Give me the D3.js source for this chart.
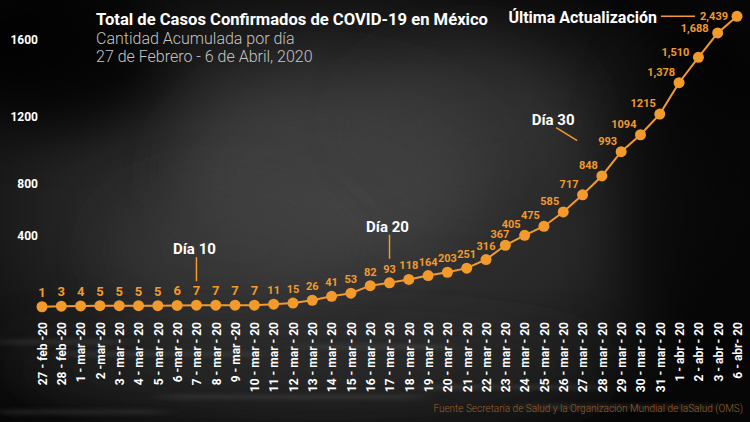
<!DOCTYPE html>
<html>
<head>
<meta charset="utf-8">
<script src="https://cdn.jsdelivr.net/npm/d3@7"></script>
<style>
    body { margin: 0; background: #111; }
    svg { display: block; font-family: 'Roboto', 'Noto Sans', sans-serif; }
</style>
</head>
<body>
<div id="chart"></div>
<script>

// data
var fechas = ["27 - feb -20", "28 - feb -20", "1 - mar -20", "2 -mar -20", "3 - mar - 20", "4 - mar - 20",
    "5 - mar - 20", "6 -mar - 20", "7 - mar - 20", "8 - mar - 20", "9 - mar -20", "10 - mar - 20",
    "11 - mar - 20", "12 - mar - 20", "13 - mar - 20", "14 - mar - 20", "15 - mar - 20", "16 - mar - 20",
    "17 - mar - 20", "18 - mar - 20", "19 - mar - 20", "20 - mar - 20", "21 - mar - 20", "22 - mar - 20",
    "23 - mar - 20", "24 - mar - 20", "25 - mar - 20", "26 - mar - 20", "27 - mar - 20", "28 - mar - 20",
    "29 - mar - 20", "30 - mar - 20", "31 - mar - 20", "1 - abr - 20", "2 - abr - 20", "3 - abr - 20",
    "6 - abr- 20"];
var casos = [1, 3, 4, 5, 5, 5, 5, 6, 7, 7, 7, 7, 11, 15, 26, 41, 53, 82, 93, 118, 164, 203, 251, 316,
    367, 405, 475, 585, 717, 848, 993, 1094, 1215, 1378, 1510, 1688, 2439];
var etiquetas = ["1", "3", "4", "5", "5", "5", "5", "6", "7", "7", "7", "7", "11", "15", "26", "41", "53",
    "82", "93", "118", "164", "203", "251", "316", "367", "405", "475", "585", "717", "848", "993",
    "1094", "1215", "1,378", "1,510", "1,688", "2,439"];
var yTicks = [400, 800, 1200, 1600];
var hitos = [{ fecha: "7 - mar - 20", texto: "Día 10" }, { fecha: "17 - mar - 20", texto: "Día 20" }];
var hito30 = { fecha: "29 - mar - 20", texto: "Día 30" };

var W = 750, H = 422;
var orange = "#f39a2d";

var svg = d3.select("#chart")
    .append("svg")
    .attr("width", W)
    .attr("height", H);

var defs = svg.append("defs");

// background
var bg = defs.append("radialGradient")
    .attr("id", "bg")
    .attr("cx", "0.45").attr("cy", "0.5").attr("r", "0.62");
bg.append("stop").attr("offset", "0%").attr("stop-color", "#3c3c3c");
bg.append("stop").attr("offset", "55%").attr("stop-color", "#262626");
bg.append("stop").attr("offset", "100%").attr("stop-color", "#070707");

defs.append("filter").attr("id", "blur").attr("x", "-50%").attr("y", "-50%").attr("width", "200%").attr("height", "200%")
    .append("feGaussianBlur").attr("stdDeviation", 28);
defs.append("filter").attr("id", "blur2").attr("x", "-20%").attr("y", "-200%").attr("width", "140%").attr("height", "500%")
    .append("feGaussianBlur").attr("stdDeviation", "12 2");

svg.append("rect")
    .attr("width", W)
    .attr("height", H)
    .style("fill", "url(#bg)");

// smoke
var humo = [
    { cx: 330, cy: 170, rx: 150, ry: 90, c: "#4a4a4a", o: 0.55 },
    { cx: 230, cy: 250, rx: 120, ry: 60, c: "#404040", o: 0.5 },
    { cx: 470, cy: 120, rx: 110, ry: 70, c: "#3e3e3e", o: 0.45 },
    { cx: 60, cy: 60, rx: 110, ry: 70, c: "#000", o: 0.8 },
    { cx: 700, cy: 200, rx: 80, ry: 180, c: "#050505", o: 0.6 },
    { cx: 300, cy: 370, rx: 300, ry: 40, c: "#2f2f2f", o: 0.5 }
];
svg.selectAll(".humo")
    .data(humo)
    .enter().append("ellipse")
    .attr("cx", function(d) { return d.cx; })
    .attr("cy", function(d) { return d.cy; })
    .attr("rx", function(d) { return d.rx; })
    .attr("ry", function(d) { return d.ry; })
    .style("fill", function(d) { return d.c; })
    .style("opacity", function(d) { return d.o; })
    .attr("filter", "url(#blur)");

// floor streaks
var rayas = [[0, 340, 120], [60, 352, 200], [160, 395, 260], [420, 385, 180], [520, 405, 200], [0, 410, 160], [300, 345, 150]];
svg.selectAll(".raya")
    .data(rayas)
    .enter().append("rect")
    .attr("x", function(d) { return d[0]; })
    .attr("y", function(d) { return d[1]; })
    .attr("width", function(d) { return d[2]; })
    .attr("height", 4)
    .style("fill", "#5a5a5a")
    .style("opacity", 0.35)
    .attr("filter", "url(#blur2)");

// scales
var x = d3.scalePoint()
    .domain(fechas)
    .range([42, 737]);

var y = d3.scaleLinear()
    .domain([0, 100, 300, 400, 800, 1200, 1600, 1700, 2500])
    .range([307, 281, 264, 236, 184, 117, 40, 32, 15]);

var puntos = fechas.map(function(f, i) { return { fecha: f, casos: casos[i], etiqueta: etiquetas[i], i: i }; });
var nUlt = puntos.length - 1;

// titles
svg.append("text")
    .attr("x", 96)
    .attr("y", 25)
    .style("font-size", "17px")
    .style("font-weight", "bold")
    .style("fill", "#fff")
    .attr("textLength", 392)
    .attr("lengthAdjust", "spacingAndGlyphs")
    .text("Total de Casos Confirmados de COVID-19 en México");

svg.append("text")
    .attr("x", 96)
    .attr("y", 44)
    .style("font-size", "16px")
    .style("font-weight", 300)
    .style("fill", "#c4c4c4")
    .text("Cantidad Acumulada por día");

svg.append("text")
    .attr("x", 96)
    .attr("y", 62)
    .style("font-size", "16px")
    .style("font-weight", 300)
    .style("fill", "#c4c4c4")
    .text("27 de Febrero - 6 de Abril, 2020");

// y axis
var yAxis = d3.axisLeft(y).tickValues(yTicks).tickSize(0).tickPadding(0).tickFormat(d3.format("d"));
var gy = svg.append("g")
    .attr("transform", "translate(38,0)")
    .call(yAxis);
gy.select(".domain").remove();
gy.selectAll("text")
    .style("fill", "#fff")
    .style("font-size", "12px")
    .style("font-weight", "bold")
    .style("font-family", "'Roboto', sans-serif");

// x axis
var xAxis = d3.axisBottom(x).tickSize(0);
var gx = svg.append("g")
    .attr("transform", "translate(0,318)")
    .call(xAxis);
gx.select(".domain").remove();
gx.selectAll("text")
    .attr("transform", "rotate(-90)")
    .attr("x", -4)
    .attr("y", 0)
    .attr("dy", "0.36em")
    .style("text-anchor", "end")
    .style("fill", "#fff")
    .style("font-size", "12px")
    .style("font-weight", "bold")
    .style("font-family", "'Roboto', sans-serif");

// line
var linea = d3.line()
    .x(function(d) { return x(d.fecha); })
    .y(function(d) { return y(d.casos); });

svg.append("path")
    .datum(puntos)
    .attr("d", linea)
    .style("fill", "none")
    .style("stroke", orange)
    .style("stroke-width", 2);

svg.selectAll(".punto")
    .data(puntos)
    .enter().append("circle")
    .attr("class", "punto")
    .attr("cx", function(d) { return x(d.fecha); })
    .attr("cy", function(d) { return y(d.casos); })
    .attr("r", 5.5)
    .style("fill", orange);

// value labels: centred above on the flat part, left of the point on the steep part
svg.selectAll(".valor")
    .data(puntos)
    .enter().append("text")
    .attr("class", "valor")
    .attr("x", function(d) {
        if (d.i >= 34) return x(d.fecha) - 9;
        if (d.i === 24) return x(d.fecha) + 4;
        return d.i < 24 ? x(d.fecha) : x(d.fecha) - 4;
    })
    .attr("y", function(d) {
        if (d.i === nUlt) return y(d.casos) + 4;
        if (d.i >= 34) return y(d.casos) - 1;
        return d.i < 24 ? y(d.casos) - 10 : y(d.casos) - 7;
    })
    .style("text-anchor", function(d) { return d.i < 24 ? "middle" : "end"; })
    .style("font-size", function(d) { return d.i < 12 ? "13px" : "11px"; })
    .style("font-weight", "bold")
    .style("fill", orange)
    .text(function(d) { return d.etiqueta; });

// Día 10 / Día 20 markers
hitos.forEach(function(h) {
    var i = fechas.indexOf(h.fecha);
    var px = x(h.fecha), py = y(casos[i]);
    svg.append("line")
        .attr("x1", px).attr("x2", px)
        .attr("y1", py - 48).attr("y2", py - 24)
        .style("stroke", orange)
        .style("stroke-width", 1.5);
    svg.append("text")
        .attr("x", px - 2)
        .attr("y", py - 51)
        .style("text-anchor", "middle")
        .style("font-size", "15px")
        .style("font-weight", "bold")
        .style("fill", "#fff")
        .text(h.texto);
});

// Día 30 marker
(function() {
    var i = fechas.indexOf(hito30.fecha);
    var px = x(hito30.fecha), py = y(casos[i]);
    svg.append("line")
        .attr("x1", px - 65).attr("y1", py - 24)
        .attr("x2", px - 44).attr("y2", py - 11)
        .style("stroke", orange)
        .style("stroke-width", 1.5);
    svg.append("text")
        .attr("x", px - 68)
        .attr("y", py - 27)
        .style("text-anchor", "middle")
        .style("font-size", "15px")
        .style("font-weight", "bold")
        .style("fill", "#fff")
        .text(hito30.texto);
})();

// última actualización
var ult = puntos[nUlt];
svg.append("text")
    .attr("x", 657)
    .attr("y", 23)
    .style("text-anchor", "end")
    .style("font-size", "16px")
    .style("font-weight", "bold")
    .style("fill", "#fff")
    .text("Última Actualización");

svg.append("line")
    .attr("x1", 661)
    .attr("x2", x(ult.fecha) - 42)
    .attr("y1", y(ult.casos))
    .attr("y2", y(ult.casos))
    .style("stroke", orange)
    .style("stroke-width", 1.5);

// source
svg.append("text")
    .attr("x", 743)
    .attr("y", 412)
    .style("text-anchor", "end")
    .style("font-size", "10px")
    .style("font-weight", 300)
    .style("fill", "#9a6128")
    .text("Fuente Secretaría de Salud y la Organización Mundial de laSalud (OMS)");

</script>
</body>
</html>
